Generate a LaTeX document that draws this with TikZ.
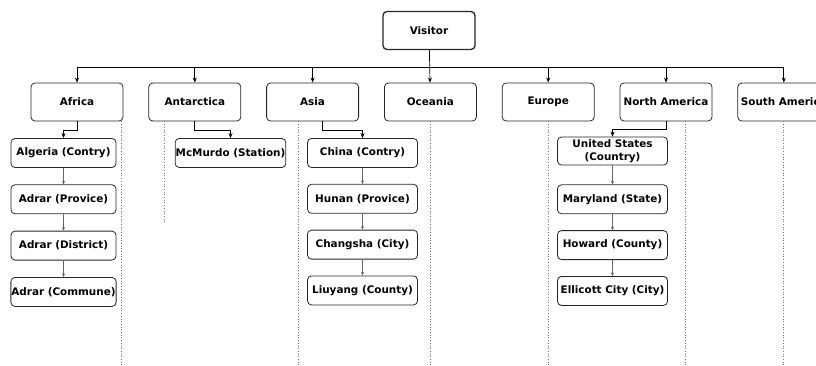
\documentclass[tikz,border=0pt]{standalone}
\usepackage{fontspec}
\setmainfont{DejaVu Sans}
\usetikzlibrary{arrows.meta,positioning}
\tikzset{
    box/.style={draw=black!85,rounded corners=4pt,line width=0.8pt,
        font=\fontsize{10.4}{13}\selectfont\bfseries,align=center,
        minimum width=92pt,minimum height=38pt,inner sep=0.5pt},
    place/.style={box,minimum width=110pt,minimum height=29pt},
    link/.style={-{Stealth[length=5pt,width=4pt]},line width=0.7pt},
    chain/.style={-{Stealth[length=3.5pt,width=3pt]},line width=0.4pt,black!60},
    life/.style={dotted,black!55,line width=0.7pt}
}
\begin{document}
\begin{tikzpicture}[x=1pt,y=-1pt,node distance=25pt]
    \useasboundingbox (0,0) rectangle (816,365);
    \coordinate (bus) at (0,67);
    \coordinate (floor) at (0,365);
    % root and continents
    \node[box,line width=1.3pt] (visitor) at (429,30.5) {Visitor};
    \node[box] (africa) at (77,102) {Africa};
    \node[box,right=of africa] (antarctica) {Antarctica};
    \node[box,right=of antarctica] (asia) {Asia};
    \node[box,right=of asia] (oceania) {Oceania};
    \node[box,right=of oceania] (europe) {Europe};
    \node[box,right=of europe] (northam) {North America};
    \node[box,right=of northam] (southam) {South America};
    % places
    \node[place,minimum width=105pt] (algeria) at (63.5,153) {Algeria (Contry)};
    \node[place,minimum width=105pt,below=16.5pt of algeria] (adrarp) {Adrar (Provice)};
    \node[place,minimum width=105pt,below=16.5pt of adrarp] (adrard) {Adrar (District)};
    \node[place,minimum width=105pt,below=16.5pt of adrard] (adrarc) {Adrar (Commune)};
    \node[place] (mcmurdo) at (230.5,153) {McMurdo (Station)};
    \node[place] (china) at (362.5,153) {China (Contry)};
    \node[place,below=16pt of china] (hunan) {Hunan (Provice)};
    \node[place,below=16pt of hunan] (changsha) {Changsha (City)};
    \node[place,below=16pt of changsha] (liuyang) {Liuyang (County)};
    \node[place,minimum height=28pt] (usa) at (612.5,151) {United States\\(Country)};
    \node[place,below=19pt of usa] (maryland) {Maryland (State)};
    \node[place,below=16pt of maryland] (howard) {Howard (County)};
    \node[place,below=16pt of howard] (ellicott) {Ellicott City (City)};
    % lifelines
    \foreach \c/\dx in {africa/44,asia/-14,oceania/0,europe/0,northam/19,southam/0}{
        \path (\c.south) ++(\dx,0) coordinate (l-\c);
        \draw[life] (l-\c) -- (l-\c |- floor);
    }
    \path (antarctica.south) ++(-30,0) coordinate (l-antarctica);
    \draw[life] (l-antarctica) -- ++(0,102);
    % tree
    \draw[link] (visitor) -- (oceania);
    \draw[line width=0.7pt] (africa.north |- bus) -- (southam.north |- bus);
    \foreach \c in {africa,antarctica,asia,europe,northam,southam}
        \draw[link] (\c.north |- bus) -- (\c.north);
    \draw[link] (africa.south) -- ++(0,9) -| (algeria.north);
    \draw[link] (antarctica.south) -- ++(0,9) -| (mcmurdo.north);
    \path (asia.south) ++(10,0) coordinate (asia-out);
    \draw[link] (asia-out) -- ++(0,9) -| (china.north);
    \draw[link] (northam.south) -- ++(0,8) -| (usa.north);
    \foreach \a/\b in {algeria/adrarp,adrarp/adrard,adrard/adrarc,
                       china/hunan,hunan/changsha,changsha/liuyang,
                       usa/maryland,maryland/howard,howard/ellicott}
        \draw[chain] (\a) -- (\b);
\end{tikzpicture}
\end{document}
